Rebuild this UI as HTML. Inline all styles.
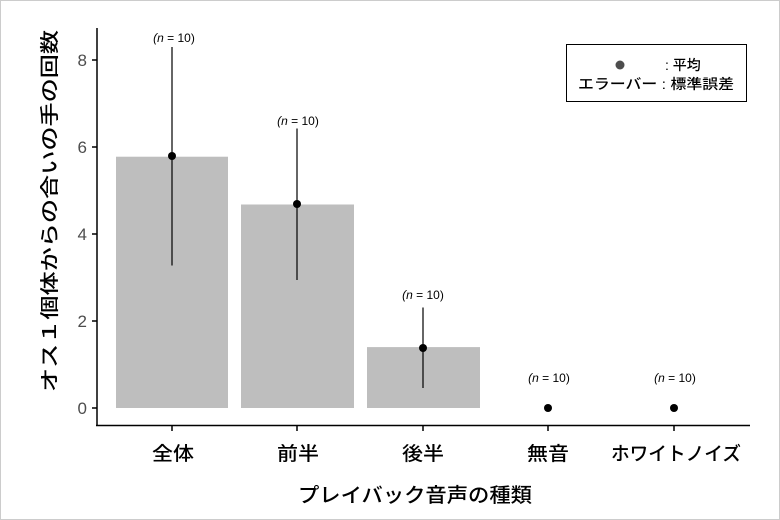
<!DOCTYPE html>
<html><head><meta charset="utf-8"><style>
html,body{margin:0;padding:0;background:#fff;}
svg{display:block;font-family:"Liberation Sans","Noto Sans CJK JP",sans-serif;}
</style></head><body>
<svg width="780" height="520" viewBox="0 0 780 520" xmlns="http://www.w3.org/2000/svg">
<rect x="0.5" y="0.5" width="779" height="519" fill="#fff" stroke="#ccc"/>
<rect x="116" y="156.7" width="112" height="251.3" fill="#bebebe"/>
<rect x="241" y="204.5" width="113" height="203.5" fill="#bebebe"/>
<rect x="367" y="347.1" width="113" height="60.9" fill="#bebebe"/>
<g stroke="#000" stroke-width="1.2">
<line x1="172" y1="47" x2="172" y2="265.5"/>
<line x1="297" y1="128.5" x2="297" y2="280"/>
<line x1="423" y1="307.5" x2="423" y2="388"/>
</g>
<g fill="#000">
<circle cx="172" cy="156" r="4"/>
<circle cx="297" cy="204" r="4"/>
<circle cx="423" cy="348" r="4"/>
<circle cx="548" cy="408" r="4"/>
<circle cx="674" cy="408" r="4"/>
</g>
<g font-size="12" text-anchor="middle" fill="#000">
<text x="174" y="42"><tspan font-style="italic">(n</tspan> = 10)</text>
<text x="298" y="125"><tspan font-style="italic">(n</tspan> = 10)</text>
<text x="423" y="299"><tspan font-style="italic">(n</tspan> = 10)</text>
<text x="549" y="382"><tspan font-style="italic">(n</tspan> = 10)</text>
<text x="675" y="382"><tspan font-style="italic">(n</tspan> = 10)</text>
</g>
<g stroke="#000" stroke-width="1.5">
<line x1="97" y1="28" x2="97" y2="426"/>
<line x1="96" y1="425.5" x2="750" y2="425.5"/>
<line x1="92" y1="408" x2="97" y2="408"/>
<line x1="92" y1="321" x2="97" y2="321"/>
<line x1="92" y1="234" x2="97" y2="234"/>
<line x1="92" y1="147" x2="97" y2="147"/>
<line x1="92" y1="60" x2="97" y2="60"/>
<line x1="172" y1="425" x2="172" y2="431"/>
<line x1="297" y1="425" x2="297" y2="431"/>
<line x1="423" y1="425" x2="423" y2="431"/>
<line x1="548" y1="425" x2="548" y2="431"/>
<line x1="674" y1="425" x2="674" y2="431"/>
</g>
<g font-size="17" fill="#4d4d4d" text-anchor="end">
<text x="87" y="414">0</text>
<text x="87" y="327">2</text>
<text x="87" y="240">4</text>
<text x="87" y="153">6</text>
<text x="87" y="66">8</text>
</g>
<g font-size="19" fill="#000" font-weight="500">
<text x="152" y="460" textLength="42" lengthAdjust="spacingAndGlyphs">全体</text>
<text x="277" y="460" textLength="42" lengthAdjust="spacingAndGlyphs">前半</text>
<text x="402" y="460" textLength="42" lengthAdjust="spacingAndGlyphs">後半</text>
<text x="527" y="460" textLength="42" lengthAdjust="spacingAndGlyphs">無音</text>
<text x="611" y="460" textLength="130" lengthAdjust="spacingAndGlyphs">ホワイトノイズ</text>
</g>
<text x="298" y="502" font-size="20" font-weight="500" textLength="234" lengthAdjust="spacingAndGlyphs">プレイバック音声の種類</text>
<text transform="translate(56,392) rotate(-90)" font-size="19" font-weight="500" textLength="362" lengthAdjust="spacingAndGlyphs">オス１個体からの合いの手の回数</text>
<rect x="566.5" y="44.5" width="180" height="57" fill="#fff" stroke="#000" stroke-width="1"/>
<circle cx="620" cy="65" r="4.5" fill="#4d4d4d"/>
<g font-size="14" fill="#000" font-weight="500">
<text x="665" y="70">: 平均</text>
<text x="578" y="89" textLength="156" lengthAdjust="spacingAndGlyphs">エラーバー : 標準誤差</text>
</g>
</svg>
</body></html>
